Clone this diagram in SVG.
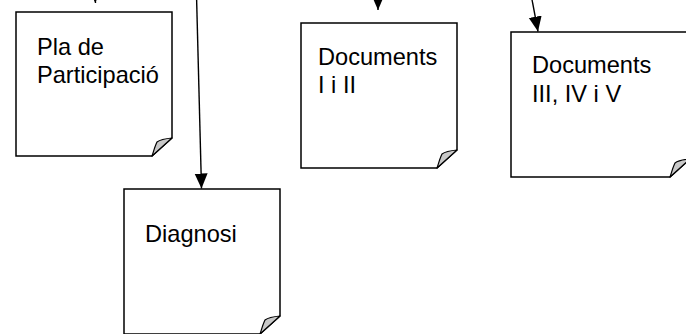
<svg xmlns="http://www.w3.org/2000/svg" width="686" height="334" viewBox="0 0 686 334">
<defs>
<style>
.box{fill:#fff;stroke:#000;stroke-width:1.5;stroke-linejoin:miter}
.flap{fill:#c8c8c8;stroke:#000;stroke-width:1.2;stroke-linejoin:round}
.lbl{font-family:"Liberation Sans",Arial,sans-serif;font-size:23.6px;fill:#000}
.conn{stroke:#000;stroke-width:1.4;fill:none}
</style>
<marker id="ah" markerUnits="userSpaceOnUse" markerWidth="16" markerHeight="14" refX="15" refY="6.5" orient="auto" viewBox="0 0 16 14">
<path d="M0,0 L15,6.5 L0,13 Z" fill="#000"/>
</marker>
</defs>
<rect width="686" height="334" fill="#fff"/>
<g id="n1">
<path class="box" d="M16,12 H172 V138 L152,156 H16 Z"/>
<path class="flap" d="M172,138 L152,156 C154,150 155,146 157,142 Q161,139 172,138 Z"/>
<text class="lbl" x="37" y="55">Pla de</text>
<text class="lbl" x="37" y="83">Participació</text>
</g>
<g id="n2">
<path class="box" d="M124,189 H280 V316 L260,334 H124 Z"/>
<path class="flap" d="M280,316 L260,334 C262,328 263,324 265,320 Q269,317 280,316 Z"/>
<text class="lbl" x="145" y="242">Diagnosi</text>
</g>
<g id="n3">
<path class="box" d="M301,23 H457 V150 L437,168 H301 Z"/>
<path class="flap" d="M457,150 L437,168 C439,162 440,158 442,154 Q446,151 457,150 Z"/>
<text class="lbl" x="318" y="65">Documents</text>
<text class="lbl" x="318" y="93">I i II</text>
</g>
<g id="n4">
<path class="box" d="M511,32 H690 V159 L670,177 H511 Z"/>
<path class="flap" d="M690,159 L670,177 C672,171 673,167 675,163 Q679,160 690,159 Z"/>
<text class="lbl" x="532" y="73">Documents</text>
<text class="lbl" x="532" y="102">III, IV i V</text>
</g>
<g id="connectors">
<line class="conn" x1="93" y1="-30" x2="95.5" y2="3" marker-end="url(#ah)"/>
<line class="conn" x1="196.5" y1="-5" x2="201.5" y2="188.5" marker-end="url(#ah)"/>
<line class="conn" x1="378" y1="-30" x2="378" y2="10" marker-end="url(#ah)"/>
<line class="conn" x1="531.5" y1="-3" x2="538" y2="31.5" marker-end="url(#ah)"/>
</g>
</svg>
